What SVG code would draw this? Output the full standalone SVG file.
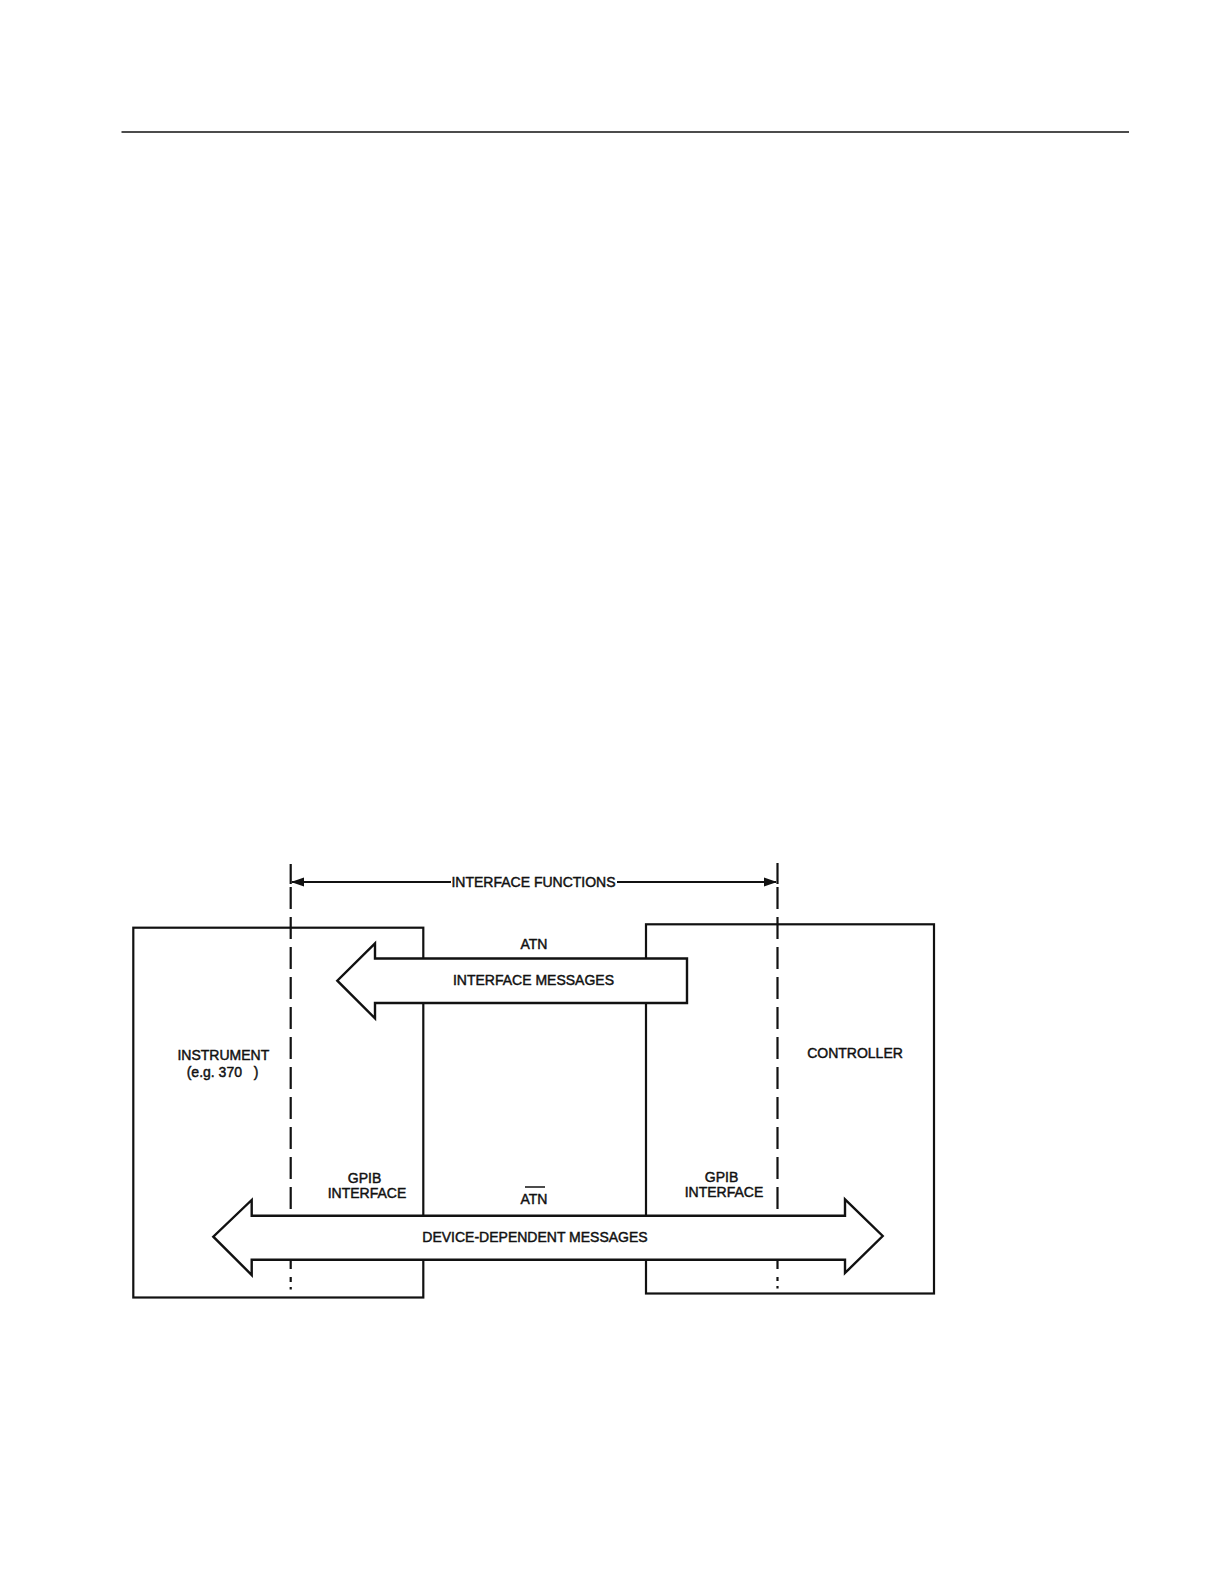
<svg xmlns="http://www.w3.org/2000/svg" width="1224" height="1584" viewBox="0 0 1224 1584">
  <defs>
    <style>
      .ln { stroke: #111; stroke-width: 2.2; fill: none; }
      .box { stroke: #111; stroke-width: 2.2; fill: none; }
      .dash { stroke: #111; stroke-width: 2.2; fill: none; stroke-dasharray: 22 8; }
      .arrow { stroke: #111; stroke-width: 2.4; fill: #fff; stroke-linejoin: miter; }
      .t { font-family: "Liberation Sans", Arial, Helvetica, sans-serif; font-size: 14px; fill: #111; stroke: #111; stroke-width: 0.45; text-anchor: middle; }
    </style>
    <marker id="ah" markerUnits="userSpaceOnUse" markerWidth="13" markerHeight="10" viewBox="0 0 13 10" refX="12" refY="5" orient="auto">
      <path d="M0,0.5 L13,5 L0,9.5 Z" fill="#111"/>
    </marker>
  </defs>
  <rect width="1224" height="1584" fill="#fff"/>

  <g id="page-rule">
    <line x1="121.5" y1="132" x2="1129" y2="132" stroke="#111" stroke-width="1.6"/>
  </g>

  <g id="node-instrument">
    <rect x="133.3" y="927.7" width="290" height="369.8" class="box"/>
    <text class="t" x="223.3" y="1059.5">INSTRUMENT</text>
    <text class="t" x="222.5" y="1076.5" xml:space="preserve">(e.g. 370   )</text>
    <text class="t" x="364.5" y="1182.7">GPIB</text>
    <text class="t" x="367" y="1198.3">INTERFACE</text>
  </g>

  <g id="node-controller">
    <rect x="646" y="924.3" width="288" height="369.2" class="box"/>
    <text class="t" x="855" y="1058.3">CONTROLLER</text>
    <text class="t" x="721.5" y="1181.7">GPIB</text>
    <text class="t" x="724" y="1197.3">INTERFACE</text>
  </g>

  <g id="connectors">
    <!-- interface function boundaries -->
    <line x1="290.7" y1="864" x2="290.7" y2="884" class="ln"/>
    <line x1="290.7" y1="887" x2="290.7" y2="1282" class="dash"/>
    <line x1="290.7" y1="1287" x2="290.7" y2="1289.5" class="ln"/>
    <line x1="777.5" y1="863" x2="777.5" y2="884" class="ln"/>
    <line x1="777.5" y1="887" x2="777.5" y2="1281" class="dash"/>
    <line x1="777.5" y1="1286" x2="777.5" y2="1288.5" class="ln"/>

    <!-- interface functions dimension line -->
    <g id="edge-interface-functions">
      <line x1="451" y1="882" x2="292" y2="882" class="ln" marker-end="url(#ah)"/>
      <line x1="617" y1="882" x2="776" y2="882" class="ln" marker-end="url(#ah)"/>
      <text class="t" x="533.5" y="887">INTERFACE FUNCTIONS</text>
    </g>

    <!-- interface messages (ATN) arrow -->
    <g id="edge-interface-messages">
      <polygon class="arrow" points="687,958.5 375,958.5 375,943.3 337.3,980.7 375,1018.3 375,1003 687,1003"/>
      <text class="t" x="534" y="949.3">ATN</text>
      <text class="t" x="533.5" y="985">INTERFACE MESSAGES</text>
    </g>

    <!-- device-dependent messages (ATN-bar) arrow -->
    <g id="edge-device-dependent-messages">
      <polygon class="arrow" points="251.7,1215.7 845,1215.7 845,1199.4 882.7,1236 845,1273 845,1259.8 251.7,1259.8 251.7,1275 213.3,1236.7 251.7,1200"/>
      <text class="t" x="534" y="1204">ATN</text>
      <line x1="525" y1="1187" x2="545" y2="1187" stroke="#111" stroke-width="1.5"/>
      <text class="t" x="535" y="1241.5">DEVICE-DEPENDENT MESSAGES</text>
    </g>
  </g>
</svg>
